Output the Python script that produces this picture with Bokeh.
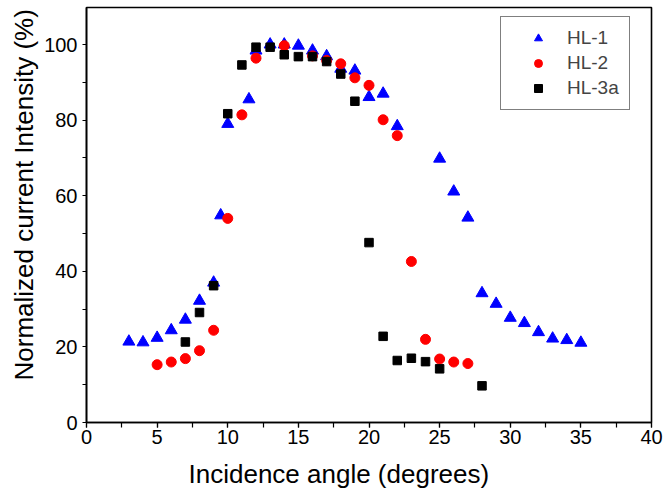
from bokeh.plotting import figure
from bokeh.models import Range1d, SingleIntervalTicker, Legend, LegendItem, Title
from bokeh.embed import file_html
from bokeh.resources import INLINE

# ---- data ----
hl1_x = [3, 4, 5, 6, 7, 8, 9, 9.5, 10, 11.5, 12, 13, 14, 15, 16, 17, 18, 19, 20, 21, 22,
         25, 26, 27, 28, 29, 30, 31, 32, 33, 34, 35]
hl1_y = [21.4, 21.2, 22.4, 24.4, 27.2, 32.2, 37.0, 54.8, 79.0, 85.5, 98.4, 100.0, 100.0, 99.7,
         98.4, 96.9, 93.6, 93.1, 86.1, 87.0, 78.4, 69.8, 61.1, 54.2, 34.2, 31.4, 27.7, 26.3,
         23.9, 22.2, 21.8, 21.1]

hl2_x = [5, 6, 7, 8, 9, 10, 11, 12, 14, 16, 17, 18, 19, 20, 21, 22, 23, 24, 25, 26, 27]
hl2_y = [15.3, 16.0, 16.9, 19.0, 24.4, 54.0, 81.4, 96.4, 99.7, 97.0, 95.8, 94.9, 91.2, 89.2,
         80.1, 75.9, 42.6, 22.0, 16.8, 16.0, 15.6]

hl3_x = [7, 8, 9, 10, 11, 12, 13, 14, 15, 16, 17, 18, 19, 20, 21, 22, 23, 24, 25, 28]
hl3_y = [21.3, 29.1, 36.2, 81.7, 94.6, 99.3, 99.3, 97.3, 96.8, 96.8, 95.5, 92.2, 85.0, 47.6,
         22.8, 16.4, 17.0, 16.1, 14.2, 9.7]

series_names = ["HL-1", "HL-2", "HL-3a"]
x_title = "Incidence angle (degrees)"
y_title = "Normalized current Intensity (%)"

FONT = "Liberation Sans"

p = figure(width=663, height=489, output_backend="svg", toolbar_location=None,
           x_range=Range1d(0, 40), y_range=Range1d(0, 109.8),
           min_border_left=86, min_border_right=12, min_border_top=7, min_border_bottom=67)
p.xgrid.visible = False
p.ygrid.visible = False
p.outline_line_color = "black"
p.outline_line_width = 1.6
p.background_fill_color = "white"
p.border_fill_color = "white"

# x axis
xa = p.xaxis[0]
xa.ticker = SingleIntervalTicker(interval=5, num_minor_ticks=2)
xa.major_tick_out = 5
xa.major_tick_in = 0
xa.minor_tick_out = 5
xa.minor_tick_in = 0
xa.major_label_standoff = 2
xa.major_label_text_font = FONT
xa.major_label_text_font_size = "20px"
xa.major_label_text_color = "black"
xa.axis_line_width = 1.6
xa.major_tick_line_width = 1.2
xa.minor_tick_line_width = 1.2
# invisible spacer label: pushes the title panel a few pixels further down
xa.axis_label = " "
xa.axis_label_text_font_size = "1px"
xa.axis_label_standoff = 6

# y axis
ya = p.yaxis[0]
ya.ticker = SingleIntervalTicker(interval=20, num_minor_ticks=2)
ya.major_tick_out = 4
ya.major_tick_in = 0
ya.major_tick_line_color = None
ya.minor_tick_out = 4
ya.minor_tick_in = 0
ya.major_label_standoff = 5
ya.major_label_text_font = FONT
ya.major_label_text_font_size = "20px"
ya.major_label_text_color = "black"
ya.axis_line_width = 1.6
ya.minor_tick_line_width = 1.2

r1 = p.scatter(x=hl1_x, y=hl1_y, marker="triangle", size=12, color="#0000FF", line_color="#0000FF")
r2 = p.scatter(x=hl2_x, y=hl2_y, marker="circle", size=10, color="#FF0000", line_color="#FF0000")
r3 = p.scatter(x=hl3_x, y=hl3_y, marker="square", size=8.5, color="#000000", line_color="#000000")

legend = Legend(items=[LegendItem(label=series_names[0], renderers=[r1]),
                       LegendItem(label=series_names[1], renderers=[r2]),
                       LegendItem(label=series_names[2], renderers=[r3])],
                location=(414, 312))
legend.label_text_font = FONT
legend.label_text_font_size = "19px"
legend.border_line_color = "black"
legend.border_line_width = 1
legend.background_fill_alpha = 1
legend.padding = 10
legend.spacing = 3
legend.glyph_width = 54
legend.glyph_height = 20
legend.label_height = 20
legend.label_standoff = 2
legend.margin = 0
p.add_layout(legend, "center")

# axis titles as side-panel titles, offset from the frame start as in the reference
xt = Title(text=x_title, align="left", offset=102, standoff=0,
           text_font=FONT, text_font_size="26px", text_font_style="normal", text_color="black")
yt = Title(text=y_title, align="left", offset=42, standoff=6,
           text_font=FONT, text_font_size="26px", text_font_style="normal", text_color="black")
p.add_layout(xt, "below")
p.add_layout(yt, "left")

open("out.html", "w").write(file_html(p, INLINE))
